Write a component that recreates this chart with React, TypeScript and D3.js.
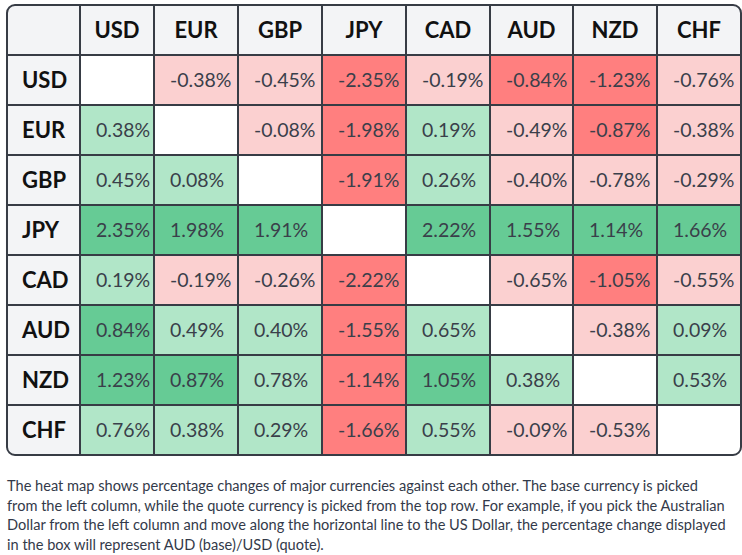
import React from "react";
import * as d3 from "d3";

const currencies = ["USD", "EUR", "GBP", "JPY", "CAD", "AUD", "NZD", "CHF"];

// Percentage change of base (row) against quote (column); null on the diagonal
const usdRow = [null, -0.38, -0.45, -2.35, -0.19, -0.84, -1.23, -0.76];
const eurRow = [0.38, null, -0.08, -1.98, 0.19, -0.49, -0.87, -0.38];
const gbpRow = [0.45, 0.08, null, -1.91, 0.26, -0.4, -0.78, -0.29];
const jpyRow = [2.35, 1.98, 1.91, null, 2.22, 1.55, 1.14, 1.66];
const cadRow = [0.19, -0.19, -0.26, -2.22, null, -0.65, -1.05, -0.55];
const audRow = [0.84, 0.49, 0.4, -1.55, 0.65, null, -0.38, 0.09];
const nzdRow = [1.23, 0.87, 0.78, -1.14, 1.05, 0.38, null, 0.53];
const chfRow = [0.76, 0.38, 0.29, -1.66, 0.55, -0.09, -0.53, null];

const rows: (number | null)[][] = [usdRow, eurRow, gbpRow, jpyRow, cadRow, audRow, nzdRow, chfRow];

const footnote = [
  "The heat map shows percentage changes of major currencies against each other. The base currency is picked",
  "from the left column, while the quote currency is picked from the top row. For example, if you pick the Australian",
  "Dollar from the left column and move along the horizontal line to the US Dollar, the percentage change displayed",
  "in the box will represent AUD (base)/USD (quote).",
];

const W = 742;
const H = 555;
const left = 7;
const top = 5;
const labelW = 73;
const colWidths = [74, 84, 84, 84, 84, 83, 84, 84];
const rowH = 50;
const border = "#373c45";

const colorScale = d3
  .scaleThreshold<number, string>()
  .domain([-0.8, 0, 0.8])
  .range(["#ff7f7f", "#fbd0d0", "#b1e6c8", "#66cb95"]);

export default function App() {
  // left edge of each currency column
  const xs = Array.from(d3.cumsum([left + labelW, ...colWidths.slice(0, -1)]));
  const right = xs[xs.length - 1] + colWidths[colWidths.length - 1];
  const y = d3
    .scaleBand<string>()
    .domain(["__head", ...currencies])
    .range([top, top + rowH * (currencies.length + 1)]);
  const bottom = top + rowH * (currencies.length + 1);

  const font = "Lato, 'Open Sans', sans-serif";

  return (
    <svg width={W} height={H} style={{ position: "absolute", left: 0, top: 0, background: "#fff" }}>
      <defs>
        <clipPath id="tbl">
          <rect x={left} y={top} width={right - left} height={bottom - top} rx={8} />
        </clipPath>
      </defs>
      <g clipPath="url(#tbl)">
        <rect x={left} y={top} width={right - left} height={rowH} fill="#f3f4f6" />
        <rect x={left} y={top} width={labelW} height={bottom - top} fill="#f3f4f6" />
        {rows.map((row, r) =>
          row.map((v, c) => (
            <rect
              key={`${r}-${c}`}
              x={xs[c]}
              y={y(currencies[r])!}
              width={colWidths[c]}
              height={y.bandwidth()}
              fill={v == null ? "#ffffff" : colorScale(v)}
            />
          ))
        )}
      </g>
      {/* grid lines */}
      {xs.map((x, i) => (
        <line key={`v${i}`} x1={x} x2={x} y1={top} y2={bottom} stroke={border} strokeWidth={2} />
      ))}
      {currencies.map((cur) => (
        <line key={`h${cur}`} x1={left} x2={right} y1={y(cur)!} y2={y(cur)!} stroke={border} strokeWidth={2} />
      ))}
      <rect x={left} y={top} width={right - left} height={bottom - top} rx={8} fill="none" stroke={border} strokeWidth={2} />
      {/* column headers */}
      {currencies.map((cur, c) => (
        <text
          key={`ch${cur}`}
          x={xs[c] + colWidths[c] / 2}
          y={top + rowH / 2}
          dy="0.36em"
          textAnchor="middle"
          fontFamily={font}
          fontWeight={700}
          fontSize={22}
          fill="#111"
        >
          {cur}
        </text>
      ))}
      {/* row labels */}
      {currencies.map((cur) => (
        <text
          key={`rh${cur}`}
          x={left + 15}
          y={y(cur)! + rowH / 2}
          dy="0.36em"
          fontFamily={font}
          fontWeight={700}
          fontSize={22}
          fill="#111"
        >
          {cur}
        </text>
      ))}
      {/* values */}
      {rows.map((row, r) =>
        row.map((v, c) =>
          v == null ? null : (
            <text
              key={`t${r}-${c}`}
              x={xs[c] + 16}
              y={y(currencies[r])! + rowH / 2}
              dy="0.36em"
              fontFamily={font}
              fontSize={19.5}
              fill="#3a3f4a"
            >
              {`${v.toFixed(2)}%`}
            </text>
          )
        )
      )}
      {footnote.map((line, i) => (
        <text key={`f${i}`} x={7} y={491 + i * 19.6} fontFamily={font} fontSize={14.6} fill="#333a4a">
          {line}
        </text>
      ))}
    </svg>
  );
}
